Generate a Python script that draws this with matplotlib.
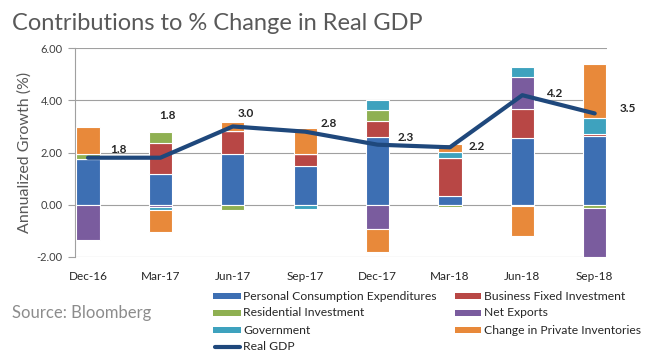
import matplotlib
matplotlib.use('Agg')
import matplotlib.pyplot as plt
import numpy as np
from matplotlib.patches import Rectangle
from matplotlib.lines import Line2D

plt.rcParams['font.family'] = ['Lato', 'DejaVu Sans']

categories = ['Dec-16', 'Mar-17', 'Jun-17', 'Sep-17', 'Dec-17', 'Mar-18', 'Jun-18', 'Sep-18']
series_names = ['Personal Consumption Expenditures', 'Business Fixed Investment',
                'Residential Investment', 'Net Exports', 'Government',
                'Change in Private Inventories']
pce = [1.74, 1.19, 1.93, 1.48, 2.59, 0.33, 2.55, 2.62]
bfi = [0.00, 1.17, 0.89, 0.45, 0.61, 1.47, 1.12, 0.10]
res = [0.20, 0.42, -0.22, 0.00, 0.43, -0.10, -0.05, -0.13]
nx = [-1.34, -0.08, 0.00, 0.00, -0.92, 0.00, 1.21, -1.88]
gov = [0.00, -0.14, 0.00, -0.17, 0.38, 0.22, 0.41, 0.60]
inv = [1.05, -0.85, 0.34, 1.02, -0.89, 0.29, -1.16, 2.06]
real_gdp = [1.8, 1.8, 3.0, 2.8, 2.3, 2.2, 4.2, 3.5]
gdp_name = 'Real GDP'
yticks = [-2, 0, 2, 4, 6]

colors = ['#3D6FB3', '#B84745', '#8FB052', '#7A5C9E', '#3EA2BE', '#E8893A']
navy = '#1F487C'
# label offsets in pixels (dx, dy up)
label_offsets = [(30, 8), (7, 42), (13, 13), (24, 8), (28, 7), (27, 1), (32, 2), (33, 5)]

W, H = 654, 360
fig = plt.figure(figsize=(W / 100, H / 100), dpi=100)
fig.patch.set_facecolor('white')
ax = fig.add_axes([75 / W, 1 - 256.7 / H, (607 - 75) / W, (256.7 - 48.3) / H])

x = np.arange(len(categories))
pos_b = np.zeros(len(x))
neg_b = np.zeros(len(x))
for vals, c in zip([pce, bfi, res, nx, gov, inv], colors):
    v = np.array(vals, dtype=float)
    bottom = np.where(v >= 0, pos_b, neg_b)
    ax.bar(x, v, 0.32, bottom=bottom, color=c, edgecolor='white', linewidth=0.8, zorder=3)
    pos_b += np.where(v > 0, v, 0)
    neg_b += np.where(v < 0, v, 0)

ax.plot(x, real_gdp, color=navy, lw=3, zorder=4, solid_capstyle='round', solid_joinstyle='round')
for i, (v, (dx, dy)) in enumerate(zip(real_gdp, label_offsets)):
    ax.annotate(f'{v:.1f}', (x[i], v), xytext=(dx * 0.72, dy * 0.72), textcoords='offset points',
                ha='center', va='center', fontweight='bold', fontsize=8.5, color='#262626', zorder=5)

ax.set_xlim(-0.18, 7.17)
ax.set_ylim(-2, 6)
ax.set_yticks(yticks)
ax.set_yticklabels([f'{t:.2f}' for t in yticks])
ax.set_xticks(x)
ax.set_xticklabels(categories)
ax.yaxis.grid(True, color='#a0a0a0', lw=0.8)
ax.set_axisbelow(True)
for s in ['top', 'right', 'bottom']:
    ax.spines[s].set_visible(False)
ax.spines['left'].set_color('#a0a0a0')
ax.spines['left'].set_linewidth(0.8)
ax.tick_params(axis='x', length=0, pad=10, labelsize=8.5, labelcolor='#262626')
ax.tick_params(axis='y', length=5, width=0.8, color='#a0a0a0', pad=4, labelsize=8, labelcolor='#404040')

fig.text(25 / W, 1 - 152 / H, 'Annualized Growth (%)', rotation=90, ha='center', va='center',
         fontsize=11.5, color='#595959')
fig.text(12 / W, 1 - 30 / H, 'Contributions to % Change in Real GDP', ha='left', va='baseline',
         fontsize=17, color='#595959')
fig.text(12 / W, 1 - 313 / H, 'Source: Bloomberg', ha='left', va='center', fontsize=12, color='#8c8c8c')

# legend (manual)
rows = [296, 313, 330, 347]
col1 = [(0, rows[0]), (2, rows[1]), (4, rows[2])]
col2 = [(1, rows[0]), (3, rows[1]), (5, rows[2])]
for idx, yy in col1:
    fig.patches.append(Rectangle((213 / W, 1 - (yy + 3) / H), 28 / W, 6 / H, transform=fig.transFigure,
                                 facecolor=colors[idx], edgecolor='none'))
    fig.text(243 / W, 1 - yy / H, series_names[idx], ha='left', va='center', fontsize=8.7, color='#262626')
for idx, yy in col2:
    fig.patches.append(Rectangle((455 / W, 1 - (yy + 3) / H), 26 / W, 6 / H, transform=fig.transFigure,
                                 facecolor=colors[idx], edgecolor='none'))
    fig.text(484 / W, 1 - yy / H, series_names[idx], ha='left', va='center', fontsize=8.7, color='#262626')
fig.lines.append(Line2D([215 / W, 240 / W], [1 - rows[3] / H] * 2, transform=fig.transFigure,
                        color=navy, lw=3, solid_capstyle='round'))
fig.text(243 / W, 1 - rows[3] / H, gdp_name, ha='left', va='center', fontsize=8.7, color='#262626')

fig.savefig('out.png', dpi=100)
